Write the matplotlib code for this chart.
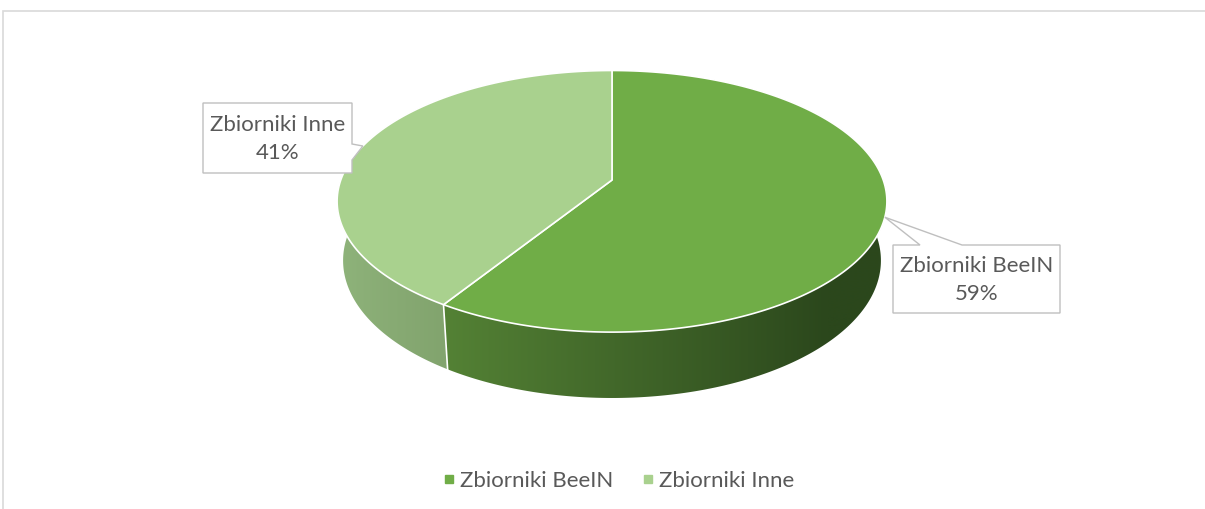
import numpy as np
import matplotlib
matplotlib.use('Agg')
import matplotlib.pyplot as plt
from matplotlib.patches import Polygon, Rectangle
from matplotlib.lines import Line2D
from matplotlib.colors import to_rgb

# Dane
kategorie = ['Zbiorniki BeeIN', 'Zbiorniki Inne']
wartosci = [59, 41]
kolory_gora = ['#70AD47', '#A9D18E']
# kolor boku: lewy koniec -> prawy koniec
kolory_bok = [('#548235', '#2B471C'), ('#90B57C', '#82A46E')]

plt.rcParams['font.family'] = ['Lato', 'DejaVu Sans']
TEKST = '#595959'
ROZMIAR = 16

# Parametry "kamery" dla wykresu 3D
CX, CY = 612, 180
F, D = 1470, 5.42
ELEW = np.radians(28)
GLEB = 0.25


def rzut(u, v, h):
    # prosty rzut perspektywiczny punktu na ekran (piksele)
    blizej = -v * np.cos(ELEW) + h * np.sin(ELEW)
    k = F / (D - blizej)
    x = CX + u * k
    y = CY - (v * np.sin(ELEW) + h * np.cos(ELEW)) * k
    return x, y


fig = plt.figure(figsize=(12.05, 5.09), dpi=100)
ax = fig.add_axes([0, 0, 1, 1])
ax.set_xlim(0, 1205)
ax.set_ylim(509, 0)
ax.axis('off')

# ramka wykresu
fig.patches.append(Rectangle((3 / 1205, -0.1), 1.2, 1.1 - 11 / 509,
                             transform=fig.transFigure, fill=False,
                             edgecolor='#D9D9D9', lw=1.2))

suma = sum(wartosci)
granice = 90 - 360 * np.concatenate([[0], np.cumsum(wartosci)]) / suma
katy = [(np.radians(granice[i]), np.radians(granice[i + 1])) for i in range(len(wartosci))]

# boki wycinków z gradientem (tylna część i tak zostanie przykryta przez górę)
for i, (t0, t1) in enumerate(katy):
    t = np.linspace(t0, t1, 800)
    xg, yg = rzut(np.cos(t), np.sin(t), 0)
    xd, yd = rzut(np.cos(t), np.sin(t), -GLEB)
    pkt = list(zip(xg, yg)) + list(zip(xd[::-1], yd[::-1]))
    bok = Polygon(pkt, closed=True, facecolor='none', edgecolor='none')
    ax.add_patch(bok)

    przod = np.sin(t) <= 0.05
    tp = t[przod]
    c_l = np.array(to_rgb(kolory_bok[i][0]))
    c_p = np.array(to_rgb(kolory_bok[i][1]))
    cmin = np.cos(tp).min()
    cmax = min(np.cos(tp).max(), 0.7)
    w = np.clip((np.cos(tp) - cmin) / max(cmax - cmin, 1e-6), 0, 1)
    kol = c_l[None, :] * (1 - w[:, None]) + c_p[None, :] * w[:, None]

    xs = xg[przod]
    kolej = np.argsort(xs)
    x0, x1 = min(xg.min(), xd.min()) - 2, max(xg.max(), xd.max()) + 2
    y0, y1 = min(yg.min(), yd.min()) - 2, max(yg.max(), yd.max()) + 2
    kolumny = np.arange(np.floor(x0), np.ceil(x1) + 1)
    obraz = np.stack([np.interp(kolumny, xs[kolej], kol[kolej, c]) for c in range(3)], axis=-1)
    obraz = np.repeat(obraz[None, :, :], 2, axis=0)
    im = ax.imshow(obraz, extent=(kolumny[0], kolumny[-1], y1, y0),
                   aspect='auto', interpolation='bilinear', zorder=1)
    im.set_clip_path(bok)

# białe linie podziału na boku
for g in granice:
    tg = np.radians(g)
    if np.sin(tg) < 0:
        xa, ya = rzut(np.cos(tg), np.sin(tg), 0)
        xb, yb = rzut(np.cos(tg), np.sin(tg), -GLEB)
        ax.plot([xa, xb], [ya, yb], color='white', lw=1.2, zorder=2)

# góra wycinków
for i, (t0, t1) in enumerate(katy):
    t = np.linspace(t0, t1, 300)
    xs, ys = rzut(np.cos(t), np.sin(t), 0)
    xc, yc = rzut(0, 0, 0)
    pkt = [(xc, yc)] + list(zip(xs, ys))
    ax.add_patch(Polygon(pkt, closed=True, facecolor=kolory_gora[i],
                         edgecolor='white', lw=1.2, joinstyle='round', zorder=3))

# etykiety z odnośnikami
pudelka = [(893, 245, 1060, 313), (203, 103, 352, 173)]
for i, (t0, t1) in enumerate(katy):
    tm = (t0 + t1) / 2
    xt, yt = rzut(np.cos(tm), np.sin(tm), 0)
    x0, y0, x1, y1 = pudelka[i]
    if i == 0:
        pkt = [(x0, y0), (920, y0), (xt, yt), (962, y0), (x1, y0), (x1, y1), (x0, y1)]
    else:
        pkt = [(x0, y0), (x1, y0), (x1, 144), (xt, yt), (x1, 160), (x1, y1), (x0, y1)]
    ax.add_patch(Polygon(pkt, closed=True, facecolor='white',
                         edgecolor='#BFBFBF', lw=1.0, zorder=5))
    proc = round(100 * wartosci[i] / suma)
    ax.text((x0 + x1) / 2, (y0 + y1) / 2 + 1, f'{kategorie[i]}\n{proc}%',
            ha='center', va='center', fontsize=ROZMIAR, color=TEKST,
            linespacing=1.45, zorder=6)

# legenda
uchwyty = [Line2D([], [], marker='s', ls='', color=k, markersize=6) for k in kolory_gora]
fig.legend(uchwyty, kategorie, loc='center', bbox_to_anchor=(617.5 / 1205, 1 - 481 / 509),
           ncol=2, frameon=False, fontsize=ROZMIAR, labelcolor=TEKST,
           handletextpad=0.1, columnspacing=1.15, handlelength=0.8)

fig.savefig('out.png', dpi=100)
